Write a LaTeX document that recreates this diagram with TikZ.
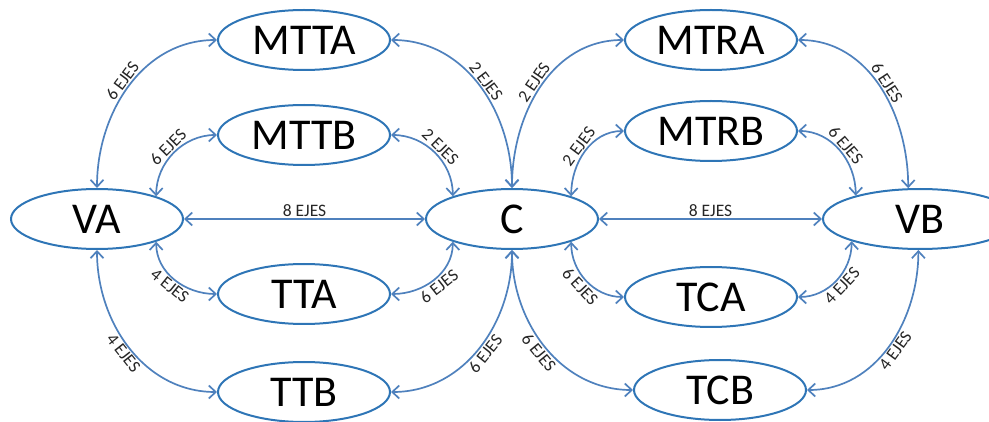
\documentclass[tikz,border=0pt]{standalone}
\usepackage{fontspec}
\setmainfont{Carlito}
\usepackage{xcolor}
\usepackage{tikz}
\usetikzlibrary{arrows.meta}
\usetikzlibrary{shapes.geometric}
\definecolor{nodeblue}{RGB}{46,117,182}
\definecolor{linkblue}{RGB}{79,129,189}
\tikzset{
	station/.style={ellipse, draw=nodeblue, line width=2pt, minimum width=172pt,
		minimum height=60pt, inner sep=0pt, font=\fontsize{44}{48}\selectfont},
	link/.style={draw=linkblue, line width=1.7pt, <->,
		>={Straight Barb[length=7pt,width=13pt]}},
	ejes/.style={sloped, font=\fontsize{17.5}{19}\selectfont, text=black!85, inner sep=1.5pt}
}

\begin{document}
\begin{tikzpicture}[x=1pt,y=1pt]
	\useasboundingbox (0,0) rectangle (989,-422);

	% stations
	\node[station] (va) at (97,-219) {VA};
	\node[station] (c) at (512,-219) {C};
	\node[station, minimum width=194pt] (vb) at (920,-219) {VB};
	\node[station] (mtta) at (304,-40) {MTTA};
	\node[station] (mttb) at (304,-135) {MTTB};
	\node[station] (tta) at (304,-294) {TTA};
	\node[station] (ttb) at (304,-392) {TTB};
	\node[station] (mtra) at (711,-40) {MTRA};
	\node[station] (mtrb) at (711,-131) {MTRB};
	\node[station] (tca) at (711,-297) {TCA};
	\node[station] (tcb) at (720,-390) {TCB};

	% left half
	\draw[link] (va.north) to[out=90,in=180] node[ejes,above]{6 EJES} (mtta.west);
	\draw[link] (va.21) to[out=90,in=180] node[ejes,above]{6 EJES} (mttb.west);
	\draw[link] (mtta.east) to[out=0,in=90] node[ejes,above]{2 EJES} (c.north);
	\draw[link] (mttb.east) to[out=0,in=90] node[ejes,above]{2 EJES} (c.159);
	\draw[link] (va.east) -- node[ejes,above]{8 EJES} (c.west);
	\draw[link] (va.339) to[out=-90,in=180] node[ejes,below]{4 EJES} (tta.west);
	\draw[link] (va.south) to[out=-90,in=180] node[ejes,below]{4 EJES} (ttb.west);
	\draw[link] (tta.east) to[out=0,in=-90] node[ejes,below]{6 EJES} (c.201);
	\draw[link] (ttb.east) to[out=0,in=-90] node[ejes,below]{6 EJES} (c.south);

	% right half
	\draw[link] (c.north) to[out=90,in=180] node[ejes,above]{2 EJES} (mtra.west);
	\draw[link] (c.21) to[out=90,in=180] node[ejes,above]{2 EJES} (mtrb.west);
	\draw[link] (mtra.east) to[out=0,in=90] node[ejes,above]{6 EJES} (vb.111);
	\draw[link] (mtrb.east) to[out=0,in=90] node[ejes,above]{6 EJES} (vb.160);
	\draw[link] (c.east) -- node[ejes,above]{8 EJES} (vb.west);
	\draw[link] (c.339) to[out=-90,in=180] node[ejes,below]{6 EJES} (tca.west);
	\draw[link] (c.south) to[out=-90,in=180] node[ejes,below]{6 EJES} (tcb.west);
	\draw[link] (tca.east) to[out=0,in=-90] node[ejes,below]{4 EJES} (vb.198);
	\draw[link] (tcb.east) to[out=0,in=-90] node[ejes,below]{4 EJES} (vb.267);

\end{tikzpicture}
\end{document}
